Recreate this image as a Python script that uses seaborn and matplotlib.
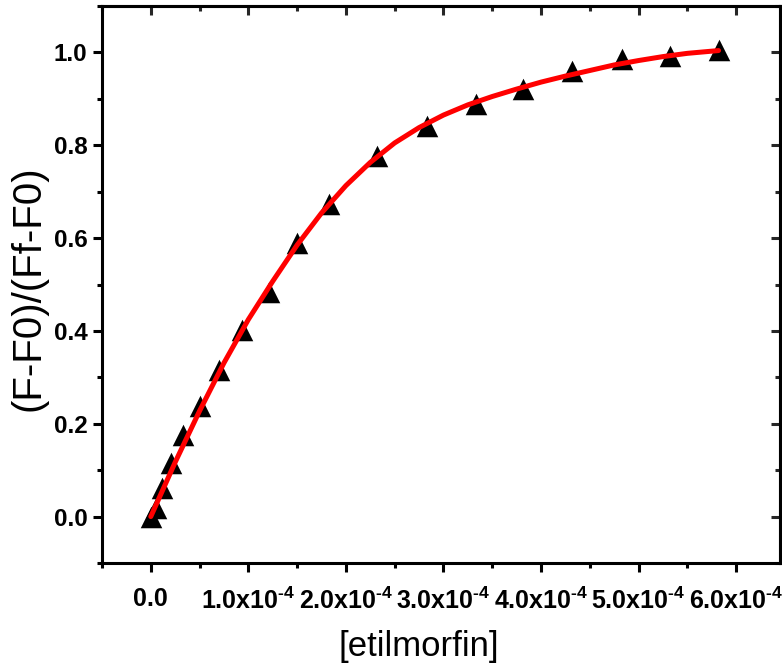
import numpy as np
import pandas as pd
import matplotlib
matplotlib.use("Agg")
import matplotlib.pyplot as plt
from matplotlib.ticker import MultipleLocator, FuncFormatter
import seaborn as sns

# ---- data (concentration in units of 1e-4) ----
conc_e4 = [0.0, 0.05, 0.11, 0.205, 0.335, 0.50, 0.70, 0.93, 1.21, 1.50,
           1.83, 2.32, 2.83, 3.33, 3.82, 4.32, 4.83, 5.32, 5.82]
ratio = [0.0, 0.019, 0.062, 0.116, 0.176, 0.238, 0.316, 0.402, 0.483, 0.589,
         0.673, 0.776, 0.841, 0.888, 0.921, 0.960, 0.986, 0.993, 1.005]

fit_conc_e4 = [0.0, 0.25, 0.5, 0.75, 1.0, 1.25, 1.5, 1.75, 2.0, 2.25, 2.5, 2.75,
               3.0, 3.25, 3.5, 3.75, 4.0, 4.25, 4.5, 4.75, 5.0, 5.25, 5.5, 5.82]
fit_ratio = [0.0, 0.117, 0.2275, 0.331, 0.4245, 0.507, 0.585, 0.654, 0.713, 0.763,
             0.805, 0.838, 0.865, 0.887, 0.905, 0.921, 0.936, 0.949, 0.961, 0.973,
             0.9825, 0.991, 0.998, 1.004]

x_ticks_e4 = [0, 1, 2, 3, 4, 5, 6]
y_ticks = [0.0, 0.2, 0.4, 0.6, 0.8, 1.0]
x_label = "[etilmorfin]"
y_label = "(F-F0)/(Ff-F0)"

df = pd.DataFrame({"conc": np.array(conc_e4) * 1e-4, "ratio": ratio})
df_fit = pd.DataFrame({"conc": np.array(fit_conc_e4) * 1e-4, "ratio": fit_ratio})

sns.set_theme(style="ticks")
plt.rcParams["font.family"] = ["Liberation Sans", "DejaVu Sans"]
plt.rcParams["mathtext.fontset"] = "custom"
plt.rcParams["mathtext.rm"] = "Liberation Sans:bold"
plt.rcParams["mathtext.bf"] = "Liberation Sans:bold"
plt.rcParams["mathtext.it"] = "Liberation Sans:bold"
plt.rcParams["mathtext.default"] = "rm"

fig = plt.figure(figsize=(7.82, 6.72), dpi=100)
fig.patch.set_facecolor("white")
ax = fig.add_axes([102 / 782, 1 - 563 / 672, 678 / 782, 557 / 672])
ax.set_facecolor("white")

sns.scatterplot(data=df, x="conc", y="ratio", marker="^", s=15.5 ** 2,
                color="black", edgecolor="black", linewidth=0, ax=ax, zorder=3)
sns.lineplot(data=df_fit, x="conc", y="ratio", color="#ff0000", lw=3.6,
             ax=ax, zorder=4, sort=False)

ax.set_xlim(-0.5e-4, 6.45e-4)
ax.set_ylim(-0.1, 1.1)

ax.set_xticks(np.array(x_ticks_e4) * 1e-4)
ax.xaxis.set_minor_locator(MultipleLocator(0.5e-4))
ax.set_yticks(y_ticks)
ax.yaxis.set_minor_locator(MultipleLocator(0.1))


def xfmt(v, pos):
    k = int(round(v * 1e4))
    if k == 0:
        return "0.0"
    return r"%d.0x10$^{\text{-4}}$" % k


ax.xaxis.set_major_formatter(FuncFormatter(xfmt))
ax.yaxis.set_major_formatter(FuncFormatter(lambda v, p: "%.1f" % v))

for sp in ax.spines.values():
    sp.set_visible(True)
    sp.set_linewidth(2.2)
    sp.set_color("black")

ax.tick_params(axis="both", which="major", direction="out", length=6.5, width=2.2,
               color="black", top=False, right=False)
ax.tick_params(axis="both", which="minor", direction="out", length=3.5, width=2.2,
               color="black", top=False, right=False)
ax.tick_params(axis="x", which="major", pad=11)
ax.tick_params(axis="y", which="major", pad=4)

for lab in ax.get_xticklabels():
    lab.set_fontfamily("Liberation Sans")
    lab.set_fontweight("bold")
    lab.set_fontsize(18)
    lab.set_color("black")
for lab in ax.get_yticklabels():
    lab.set_fontfamily("Liberation Sans")
    lab.set_fontweight("bold")
    lab.set_fontsize(17.5)
    lab.set_color("black")

# mirrored inward ticks on top and right
secx = ax.secondary_xaxis("top")
secx.set_xticks(np.array(x_ticks_e4) * 1e-4)
secx.xaxis.set_minor_locator(MultipleLocator(0.5e-4))
secx.tick_params(which="major", direction="in", length=6.5, width=2.2, labeltop=False)
secx.tick_params(which="minor", direction="in", length=3.5, width=2.2)
secx.spines["top"].set_linewidth(2.2)
secy = ax.secondary_yaxis("right")
secy.set_yticks(y_ticks)
secy.yaxis.set_minor_locator(MultipleLocator(0.1))
secy.tick_params(which="major", direction="in", length=6.5, width=2.2, labelright=False)
secy.tick_params(which="minor", direction="in", length=3.5, width=2.2)
secy.spines["right"].set_linewidth(2.2)

ax.set_xlabel(x_label, fontsize=25, fontfamily="Liberation Sans", color="black")
ax.set_ylabel(y_label, fontsize=29, fontfamily="Liberation Sans", color="black")
ax.xaxis.set_label_coords((419 - 102) / 678, -0.12)
ax.yaxis.set_label_coords(-0.081, 0.494)

fig.savefig("out.png", dpi=100, facecolor="white")
